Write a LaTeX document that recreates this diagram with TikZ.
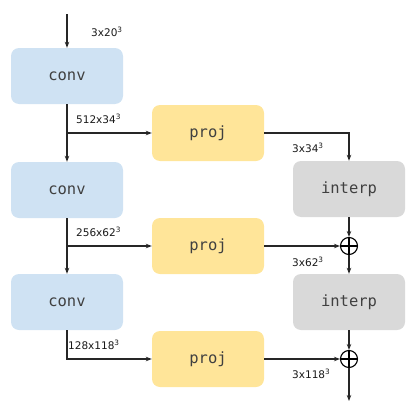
\documentclass[tikz,border=0pt]{standalone}
\usepackage{fontspec}
\setmainfont{DejaVu Sans}
\newfontfamily\boxfont{DejaVu Sans Mono}
\usetikzlibrary{arrows.meta}
\definecolor{convc}{HTML}{CFE2F3}
\definecolor{projc}{HTML}{FFE599}
\definecolor{interpc}{HTML}{D9D9D9}
\definecolor{txt}{HTML}{404040}
\begin{document}
\begin{tikzpicture}[x=1pt,y=-1pt,
  blk/.style={rounded corners=8pt, minimum width=112pt, minimum height=56pt, inner sep=0pt, text=txt, font=\boxfont\fontsize{15.5}{17}\selectfont},
  convbox/.style={blk, fill=convc},
  projbox/.style={blk, fill=projc},
  interpbox/.style={blk, fill=interpc},
  conn/.style={line width=1.1pt, draw=black!85},
  arr/.style={conn, -{Stealth[length=6pt,width=4.5pt]}},
  lab/.style={anchor=west, inner sep=0pt, font=\fontsize{10.5}{12}\selectfont, text=black!90},
  oplus/.style={circle, draw=black, line width=1.1pt, minimum size=17pt, inner sep=0pt,
    path picture={\draw[line width=1.1pt] (path picture bounding box.north) -- (path picture bounding box.south) (path picture bounding box.west) -- (path picture bounding box.east);}}
]
\useasboundingbox (0,0) rectangle (415,415);
\node[convbox] (c1) at (67,76) {conv};
\node[convbox] (c2) at (67,190) {conv};
\node[convbox] (c3) at (67,302) {conv};
\node[projbox] (p1) at (208,133) {proj};
\node[projbox] (p2) at (208,246) {proj};
\node[projbox] (p3) at (208,359) {proj};
\node[interpbox] (i1) at (349,189) {interp};
\node[interpbox] (i2) at (349,302) {interp};
\node[oplus] (s1) at (349,246) {};
\node[oplus] (s2) at (349,359) {};
\coordinate (in) at (67,14);
\coordinate (out) at (349,401);
\coordinate (b1) at (67,133);
\coordinate (b2) at (67,246);
\coordinate (b3) at (67,359);
\coordinate (k1) at (349,133);
% input
\draw[arr] (in) -- (c1.north);
\node[lab] (l0) at (91,32) {3x20\textsuperscript{3}};
% conv chain
\draw[arr] (c1.south) -- (c2.north);
\draw[arr] (b1) -- (p1.west);
\node[lab] (l1) at (76,119) {512x34\textsuperscript{3}};
\draw[arr] (c2.south) -- (c3.north);
\draw[arr] (b2) -- (p2.west);
\node[lab] (l2) at (76,232) {256x62\textsuperscript{3}};
\draw[arr] (c3.south) -- (b3) -- (p3.west);
\node[lab] (l3) at (68,345) {128x118\textsuperscript{3}};
% right side
\draw[arr] (p1.east) -- (k1) -- (i1.north);
\node[lab] (r1) at (292,148) {3x34\textsuperscript{3}};
\draw[arr] (i1.south) -- (s1.north);
\draw[arr] (p2.east) -- (s1.west);
\node[lab] (r2) at (292,262) {3x62\textsuperscript{3}};
\draw[arr] (s1.south) -- (i2.north);
\draw[arr] (i2.south) -- (s2.north);
\draw[arr] (p3.east) -- (s2.west);
\node[lab] (r3) at (292,374) {3x118\textsuperscript{3}};
\draw[arr] (s2.south) -- (out);
\end{tikzpicture}
\end{document}
